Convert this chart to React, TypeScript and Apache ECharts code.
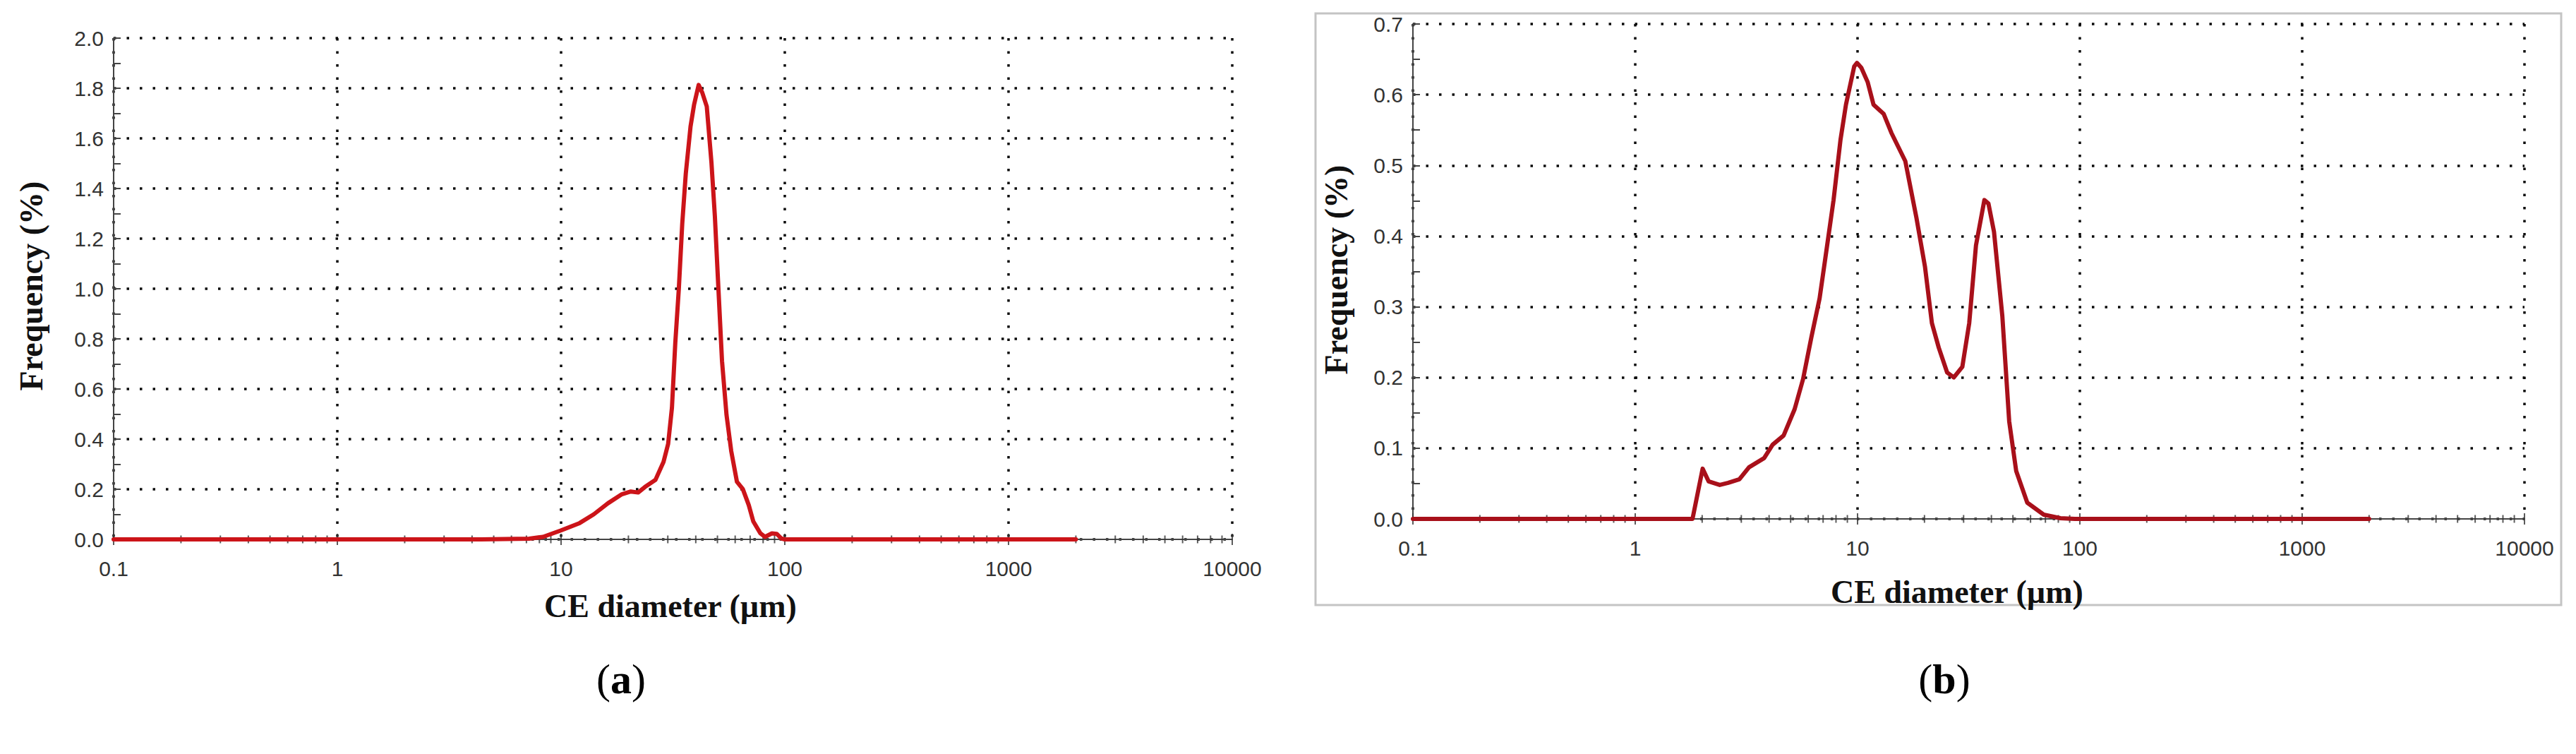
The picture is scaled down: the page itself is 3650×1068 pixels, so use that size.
import React, { useEffect, useRef } from "react";
import * as echarts from "echarts";

// ---------- Data ----------
// Chart (a): CE diameter (µm) vs frequency (%)
const sizesA = [0.1, 4.4, 7.2, 8.3, 10, 12.1, 14, 16.2, 18.7, 20.5, 22.1, 23.7, 26.4, 28.7, 30.1, 31.3, 32.4, 33.6, 34.8, 36.1, 37.9, 39.3, 41.2, 42.7, 44.8, 47.0, 48.7, 50.5, 52.4, 54.9, 57.6, 61.1, 64.9, 69.0, 72.3, 77.8, 81.5, 87.6, 92.0, 96.4, 100, 2000];
const freqA = [0, 0, 0.003, 0.01, 0.036, 0.065, 0.1, 0.144, 0.18, 0.191, 0.187, 0.209, 0.237, 0.309, 0.381, 0.525, 0.784, 1.0, 1.259, 1.46, 1.647, 1.734, 1.813, 1.784, 1.727, 1.504, 1.288, 1.0, 0.712, 0.496, 0.353, 0.23, 0.201, 0.137, 0.072, 0.024, 0.01, 0.024, 0.022, 0.004, 0, 0];

// Chart (b)
const sizesB = [0.1, 1.81, 2.01, 2.14, 2.4, 2.62, 2.94, 3.25, 3.8, 4.15, 4.65, 5.21, 5.69, 6.2, 6.75, 7.15, 7.8, 8.38, 8.87, 9.66, 9.94, 10.4, 11.1, 11.8, 13.1, 14.2, 16.4, 18.4, 20.1, 21.6, 23.2, 25.3, 27.1, 29.6, 31.8, 34.1, 37.2, 38.8, 41.1, 44.8, 48.1, 51.7, 58.0, 68.8, 81.8, 95, 2000];
const freqB = [0, 0, 0.071, 0.053, 0.048, 0.051, 0.056, 0.073, 0.086, 0.105, 0.118, 0.155, 0.198, 0.257, 0.312, 0.367, 0.451, 0.536, 0.586, 0.64, 0.645, 0.638, 0.618, 0.586, 0.573, 0.546, 0.506, 0.426, 0.357, 0.277, 0.242, 0.207, 0.2, 0.215, 0.277, 0.387, 0.451, 0.446, 0.406, 0.287, 0.138, 0.068, 0.023, 0.006, 0.001, 0, 0];

// Axis ticks / labels
const xTickLabels = ["0.1", "1", "10", "100", "1000", "10000"];
const xMajorTicks = [0.1, 1, 10, 100, 1000, 10000];
const xDecades = [0.1, 1, 10, 100, 1000];
const xMinorMantissas = [2, 3, 4, 5, 6, 7, 8, 9];
const yMaxA = 2.0;
const yStepA = 0.2;
const yMaxB = 0.7;
const yStepB = 0.1;

const xTitle = "CE diameter (µm)";
const yTitle = "Frequency (%)";

const minorTicks: number[] = [];
xDecades.forEach((d) => xMinorMantissas.forEach((m) => minorTicks.push(d * m)));

const GRID_DOT = { color: "#0a0a0a", width: 3.5, type: [3.5, 15] as number[] };
const AXIS_COLOR = "#444";
const LABEL_FONT = "Liberation Sans";

function mkX(gi: number) {
  return {
    type: "log",
    logBase: 10,
    min: 0.1,
    max: 10000,
    gridIndex: gi,
    axisLine: { show: true, onZero: false, lineStyle: { color: AXIS_COLOR, width: 2 } },
    axisTick: { show: false },
    minorTick: { show: false },
    axisLabel: {
      margin: 26,
      fontSize: 30,
      fontFamily: LABEL_FONT,
      color: "#333",
      formatter: (v: number) => xTickLabels[Math.round(Math.log10(v)) + 1] ?? "",
    },
    splitLine: { show: true, lineStyle: GRID_DOT },
  };
}

function mkY(gi: number, max: number, step: number) {
  return {
    type: "value",
    min: 0,
    max,
    interval: step,
    gridIndex: gi,
    axisLine: { show: true, lineStyle: { color: AXIS_COLOR, width: 2 } },
    axisTick: { show: true, inside: true, length: 10, lineStyle: { color: AXIS_COLOR, width: 2 } },
    minorTick: { show: true, splitNumber: 2, length: 10, lineStyle: { color: AXIS_COLOR, width: 2 } },
    axisLabel: {
      margin: 14,
      fontSize: 30,
      fontFamily: LABEL_FONT,
      color: "#333",
      formatter: (v: number) => v.toFixed(1),
    },
    splitLine: { show: true, lineStyle: GRID_DOT },
  };
}

function tickSeries(gi: number, vals: number[], h: number) {
  return {
    type: "scatter",
    xAxisIndex: gi,
    yAxisIndex: gi,
    data: vals.map((v) => [v, 0]),
    symbol: "rect",
    symbolSize: [2, h],
    itemStyle: { color: "#333" },
    silent: true,
    z: 2,
  };
}

function lineSeries(gi: number, xs: number[], ys: number[], color: string) {
  return {
    type: "line",
    xAxisIndex: gi,
    yAxisIndex: gi,
    data: xs.map((x, i) => [x, ys[i]]),
    showSymbol: false,
    symbol: "none",
    clip: false,
    lineStyle: { color, width: 6, join: "round", cap: "round" },
    z: 5,
  };
}

function titleText(text: string, x: number, y: number, rot = 0, size = 46) {
  return {
    type: "text",
    x,
    y,
    rotation: rot,
    z: 10,
    style: {
      text,
      fontSize: size,
      fontWeight: "bold",
      fontFamily: "Liberation Serif",
      fill: "#111",
      align: "center",
      verticalAlign: "middle",
    },
  };
}

function panelLabel(letter: string, x: number, y: number) {
  return {
    type: "text",
    x,
    y,
    z: 10,
    style: {
      text: `{p|(}{b|${letter}}{p|)}`,
      align: "center",
      verticalAlign: "middle",
      rich: {
        p: { fontSize: 60, fontFamily: "Liberation Serif", fill: "#000" },
        b: { fontSize: 60, fontFamily: "Liberation Serif", fontWeight: "bold", fill: "#000" },
      },
    },
  };
}

export default function App() {
  const ref = useRef<HTMLDivElement>(null);
  useEffect(() => {
    if (!ref.current) return;
    const chart = echarts.init(ref.current, null, { renderer: "svg" });
    const option: any = {
      animation: false,
      backgroundColor: "#fff",
      grid: [
        { left: 161, top: 54, width: 1585, height: 710 },
        { left: 2002, top: 34, width: 1575, height: 701 },
      ],
      xAxis: [mkX(0), mkX(1)],
      yAxis: [mkY(0, yMaxA, yStepA), mkY(1, yMaxB, yStepB)],
      series: [
        tickSeries(0, minorTicks, 11),
        tickSeries(0, xMajorTicks, 16),
        tickSeries(1, minorTicks, 11),
        tickSeries(1, xMajorTicks, 16),
        lineSeries(0, sizesA, freqA, "#cc1419"),
        lineSeries(1, sizesB, freqB, "#a8101a"),
      ],
      graphic: [
        {
          type: "rect",
          shape: { x: 1864, y: 19, width: 1765, height: 838 },
          style: { fill: "none", stroke: "#c4c4c4", lineWidth: 3 },
          z: 0,
        },
        titleText(yTitle, 44, 405, Math.PI / 2),
        titleText(yTitle, 1893, 382, Math.PI / 2),
        titleText(xTitle, 950, 858),
        titleText(xTitle, 2773, 838),
        panelLabel("a", 880, 962),
        panelLabel("b", 2755, 962),
      ],
    };
    chart.setOption(option);
    return () => chart.dispose();
  }, []);
  return (
    <div
      ref={ref}
      style={{ position: "fixed", left: 0, top: 0, width: 3650, height: 1068, background: "#fff" }}
    />
  );
}
